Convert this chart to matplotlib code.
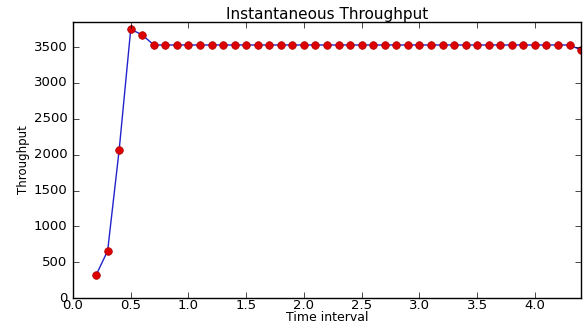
import numpy as np
import matplotlib
matplotlib.use('Agg')
import matplotlib.pyplot as plt

# time intervals and measured throughput
time_start = [0.2, 0.3, 0.4, 0.5, 0.6]
throughput_start = [320, 660, 2070, 3750, 3670]
plateau_times = [round(0.7 + 0.1 * i, 1) for i in range(37)]
plateau_value = 3530
time_end = [4.4]
throughput_end = [3460]

times = time_start + plateau_times + time_end
throughput = throughput_start + [plateau_value] * len(plateau_times) + throughput_end

plt.style.use('classic')
fig = plt.figure(figsize=(5.84, 3.24), dpi=100)
ax = fig.add_axes([0.125, 0.08, 0.87, 0.852])
ax.plot(times, throughput, '-', color='#2222cc', lw=1)
ax.plot(times, throughput, 'o', color='#dd0000', mec='#aa0000', ms=5.5, mew=0.5)
ax.set_xlim(0, 4.4)
ax.set_ylim(0, 3850)
ax.set_xticks(np.arange(0, 4.5, 0.5))
ax.set_yticks(np.arange(0, 3501, 500))
ax.tick_params(labelsize=9.5)
ax.tick_params(axis='x', pad=1)
ax.set_title('Instantaneous Throughput', fontsize=11, pad=2)
ax.set_xlabel('Time interval', fontsize=9, labelpad=-1)
ax.set_ylabel('Throughput', fontsize=8.5, labelpad=3)
fig.savefig('out.png', dpi=100)
plt.close(fig)
